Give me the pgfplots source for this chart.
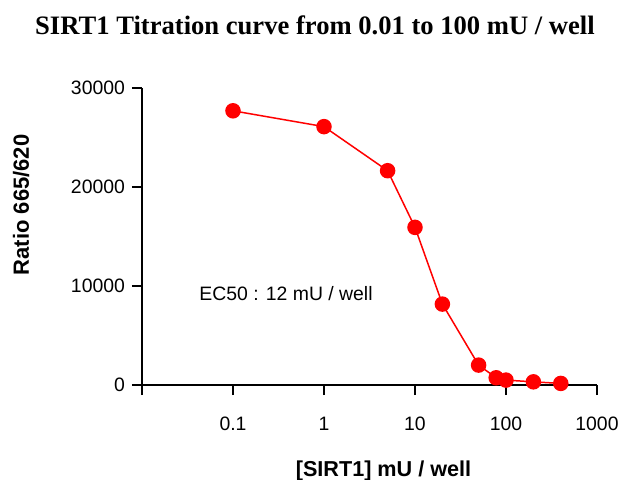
\documentclass[border=0pt]{standalone}
\usepackage{pgfplots}
\pgfplotsset{compat=1.18}
\usepackage{fontspec}
\setmainfont{Liberation Sans}
\newfontfamily\titlefont{Liberation Serif}
\begin{document}
\begin{tikzpicture}
\begin{axis}[
  at={(0,0)}, anchor=south west,
  scale only axis,
  width=227.5pt, height=153.5pt,
  xmode=log,
  xmin=0.01, xmax=1000,
  ymin=-1000, ymax=30000,
  axis y line=left,
  axis x line=middle,
  axis line style={-, line width=1pt, black},
  hide obscured x ticks=false,
  hide obscured y ticks=false,
  tick align=outside,
  major tick length=5pt,
  tick style={line width=0.75pt, black},
  xtick={0.1,1,10,100,1000},
  xticklabels={0.1,1,10,100,1000},
  xminorticks=false,
  ytick={0,10000,20000,30000},
  yticklabels={0,10000,20000,30000},
  scaled y ticks=false,
  yminorticks=false,
  ticklabel style={font=\fontsize{9.7}{11}\selectfont},
  xticklabel style={yshift=-7.5pt},
  clip=false,
]
\addplot[red, line width=0.75pt, mark=*, mark size=3.5pt, mark options={fill=red, draw=red}]
coordinates {
(0.1,27700) (1,26100) (5,21650) (10,15930) (20,8180) (50,2020) (78,740) (100,505) (200,330) (400,170)
};
\end{axis}
\node[anchor=base west, inner sep=0pt, font=\fontsize{9.7}{11}\selectfont] at (28.5pt,47.15pt) {EC50 : 12 mU / well};
\node[anchor=base, font=\titlefont\bfseries\fontsize{13.3}{15}\selectfont] at (86.5pt,180.5pt) {SIRT1 Titration curve from 0.01 to 100 mU / well};
\node[anchor=base, rotate=90, font=\bfseries\fontsize{11}{13}\selectfont] at (-56.5pt,95pt) {Ratio 665/620};
\node[anchor=base, font=\bfseries\fontsize{10.8}{12}\selectfont] at (120.75pt,-40.5pt) {[SIRT1] mU / well};
\pgfresetboundingbox
\useasboundingbox (-71pt,-42pt) rectangle (240pt,197.5pt);
\end{tikzpicture}
\end{document}
